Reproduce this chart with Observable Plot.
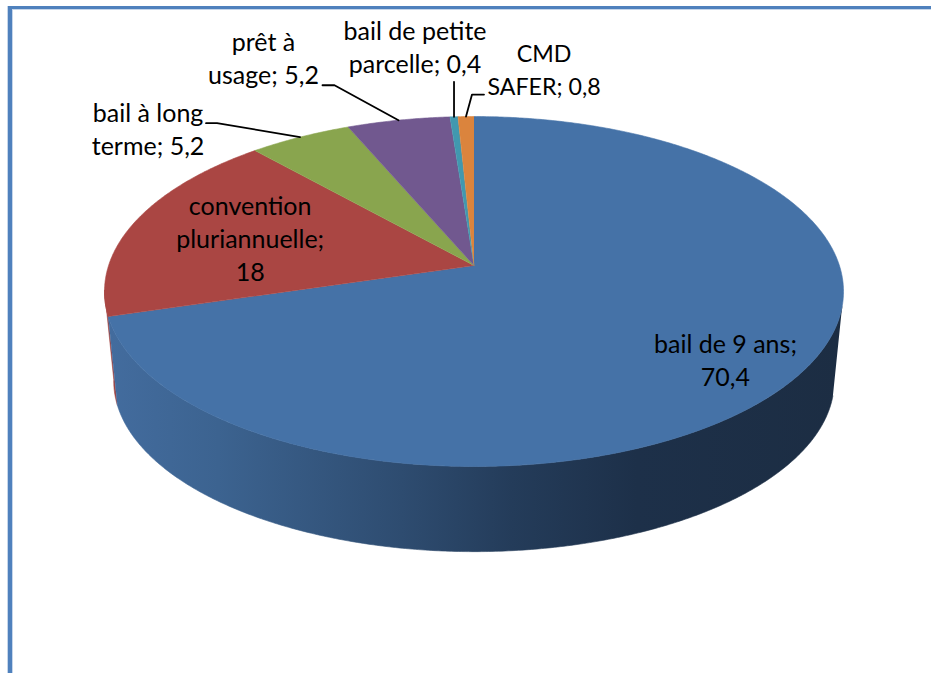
<!DOCTYPE html>
<html lang="fr">
<head>
<meta charset="utf-8">
<title>Modes de faire-valoir</title>
<script src="https://cdn.jsdelivr.net/npm/d3@7"></script>
<script src="https://cdn.jsdelivr.net/npm/@observablehq/plot@0.6"></script>
<style>
  html, body { margin: 0; padding: 0; background: #fff; }
  #page { position: relative; width: 931px; height: 673px; overflow: hidden; }
  #page svg { display: block; }
  .frame { position: absolute; pointer-events: none; box-sizing: border-box; }
  #frame-pale { left: 7px; top: 6px; width: 924px; height: 667px; border-top: 4px solid #c6d6ea; border-left: 6px solid #c6d6ea; }
  #frame-blue { left: 7.5px; top: 6px; width: 923.5px; height: 667px; border-top: 3px solid #4f81bd; border-left: 4.5px solid #4f81bd; }
</style>
</head>
<body>
<div id="page">
  <div id="chart"></div>
  <div class="frame" id="frame-pale"></div>
  <div class="frame" id="frame-blue"></div>
</div>
<script>
// Slices, clockwise from twelve o'clock
const names = ["bail de 9 ans", "convention\npluriannuelle", "bail à long\nterme", "prêt à\nusage", "bail de petite\nparcelle", "CMD\nSAFER"];
const values = [70.4, 18, 5.2, 5.2, 0.4, 0.8];
const separators = ["\n", "\n", " ", " ", " ", " "];
const colors = ["#4572A7", "#AA4643", "#89A54E", "#71588F", "#4198AF", "#DB843D"];

// Label placement relative to each slice's rim midpoint, in pixels
const labelDx = [-70, 114, -152, -135, -39, 78];
const labelDy = [-19, 16.5, -9, -63, -71, -49];
const labelSizes = [25, 25, 25, 25, 25, 23.2];
// Leader polyline offsets from the rim midpoint (none for labels inside the slice)
const leaderOffsets = [
  null,
  null,
  [[-94, -14], [-83, -14], [0, 0]],
  [[-76, -35], [-64, -35], [0, 0]],
  [[0, -35], [0, 0]],
  [[18, -22], [6, -22], [0, 0]]
];

// Perspective view of the disc
const centerX = 473.5, hubY = 265, radiusX = 365.4, radiusY = 171.1;
const tilt = 0.1486, floorScale = 0.975, floorDrop = 90.2 / radiusY;

const project = (theta, r = 1, floor = false) => {
  const u = r * Math.sin(theta), v = -r * Math.cos(theta);
  const w = 1 - tilt * v, s = floor ? floorScale : 1;
  return {x: s * u / w, y: s * v / w + (floor ? floorDrop : 0)};
};

const total = d3.sum(values);
const ends = d3.cumsum(values);
const toAngle = (v) => (v / total) * 2 * Math.PI;
const arc = (a0, a1, floor = false) => {
  const n = Math.max(2, Math.ceil(Math.abs(a1 - a0) / 0.008));
  return d3.range(n + 1).map((i) => project(a0 + ((a1 - a0) * i) / n, 1, floor));
};

const slices = values.map((v, i) => {
  const a0 = toAngle(ends[i] - v), a1 = toAngle(ends[i]);
  return {
    color: colors[i],
    points: [project(0, 0), ...arc(a0, a1)],
    rim: project((a0 + a1) / 2),
    label: `${names[i]};${separators[i]}${String(v).replace(".", ",")}`
  };
});

// Side wall: blue from the right-hand silhouette to its edge, then a sliver of red
const wallStart = 103.5 * Math.PI / 180;
const blueEnd = toAngle(ends[0]);
const redWallEnd = 262 * Math.PI / 180;
const wall = (a0, a1) => [...arc(a0, a1), ...arc(a1, a0, true)];

const gradient = () => {
  const defs = d3.create("svg:defs");
  const g = defs.append("linearGradient").attr("id", "wall-shade");
  [[0, "#436c9e"], [0.15, "#3c6390"], [0.4, "#2e4c70"], [0.55, "#243c5a"], [0.72, "#1d3049"], [1, "#1c2d43"]]
    .forEach(([o, c]) => g.append("stop").attr("offset", o).attr("stop-color", c));
  return defs.node();
};

const area = (points, fill) => Plot.line(points, {x: "x", y: "y", fill, stroke: fill, strokeWidth: 0.6});

const leaders = slices.flatMap((s, i) => leaderOffsets[i]
  ? [Plot.line(leaderOffsets[i].map(([dx, dy]) => ({x: s.rim.x + dx / radiusX, y: s.rim.y + dy / radiusY})),
      {x: "x", y: "y", stroke: "#000", strokeWidth: 1.8})]
  : []);

const labels = slices.map((s, i) => Plot.text([s], {
  x: (d) => d.rim.x,
  y: (d) => d.rim.y,
  text: "label",
  dx: labelDx[i],
  dy: labelDy[i],
  fill: "#000",
  fontSize: labelSizes[i],
  fontFamily: "Lato, 'Open Sans', sans-serif",
  lineHeight: 33 / labelSizes[i],
  textAnchor: "middle",
  lineAnchor: "middle"
}));

const chart = Plot.plot({
  width: 931,
  height: 673,
  margin: 0,
  x: {domain: [-1, 1], range: [centerX - radiusX, centerX + radiusX], axis: null},
  y: {domain: [-1, 1], range: [hubY - radiusY, hubY + radiusY], axis: null},
  marks: [
    gradient,
    area(wall(blueEnd, redWallEnd), "#A0423F"),
    area(wall(wallStart, blueEnd), "url(#wall-shade)"),
    ...slices.map((s) => area(s.points, s.color)),
    ...leaders,
    ...labels
  ]
});
document.getElementById("chart").append(chart);
</script>
</body>
</html>
